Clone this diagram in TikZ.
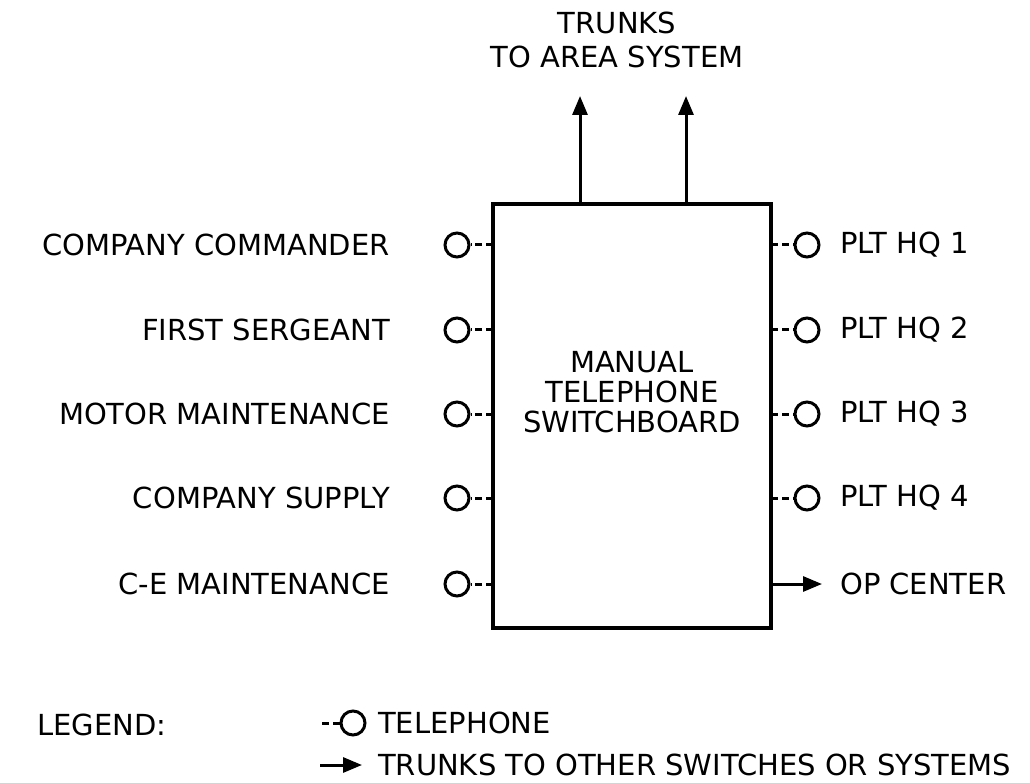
\documentclass[tikz,border=0pt]{standalone}
\usepackage{fontspec}
\setmainfont{DejaVu Sans}
\usetikzlibrary{arrows.meta}
\begin{document}
\begin{tikzpicture}[x=1pt,y=-1pt,
  lbl/.style={font=\fontsize{29}{30}\selectfont,inner sep=0pt},
  phone/.style={circle,draw,line width=3pt,minimum size=24pt,inner sep=0pt},
  dashline/.style={line width=3pt,dash pattern=on 7pt off 4pt},
  trunk/.style={line width=3pt,-{Triangle[length=19pt,width=15pt]}},
  boxstyle/.style={draw,line width=3.6pt,minimum width=278pt,minimum height=424pt,inner sep=0pt}]
\useasboundingbox (0,0) rectangle (1030,783);
% switchboard
\node[boxstyle] (sw) at (632,416) {};
\node[lbl,align=center,font=\fontsize{29}{30}\selectfont] (swt) at (632,392) {MANUAL\\TELEPHONE\\SWITCHBOARD};
% trunks
\node[lbl,align=center,font=\fontsize{29}{34}\selectfont] (tt) at (617,40) {TRUNKS\\TO AREA SYSTEM};
\coordinate (ta1) at (580,96);
\coordinate (ta2) at (686,96);
\coordinate (tb1) at (580,204);
\coordinate (tb2) at (686,204);
\draw[trunk] (tb1) -- (ta1);
\draw[trunk] (tb2) -- (ta2);
% left rows
\foreach \y/\t/\n in {245/COMPANY COMMANDER/l1, 330/FIRST SERGEANT/l2, 414/MOTOR MAINTENANCE/l3, 498/COMPANY SUPPLY/l4, 584/C-E MAINTENANCE/l5}{
  \node[lbl,anchor=east] (\n t) at (390,\y) {\t};
  \node[phone] (\n c) at (457,\y) {};
  \coordinate (\n e) at (493,\y);
  \draw[dashline] (\n e) -- (\n c.east);
}
% right rows
\foreach \y/\t/\n in {245/PLT HQ 1/r1, 330/PLT HQ 2/r2, 414/PLT HQ 3/r3, 498/PLT HQ 4/r4}{
  \node[lbl,anchor=west] (\n t) at (840,\y) {\t};
  \node[phone] (\n c) at (807,\y) {};
  \coordinate (\n e) at (771,\y);
  \draw[dashline] (\n e) -- (\n c.west);
}
\node[lbl,anchor=west] (opt) at (840,584) {OP CENTER};
\coordinate (ope) at (771,584);
\coordinate (opa) at (822,584);
\draw[trunk] (ope) -- (opa);
% legend
\node[lbl,anchor=west] (leg) at (37,725) {LEGEND:};
\coordinate (lgs) at (318,723);
\node[phone] (lgc) at (353,723) {};
\draw[dashline] (lgc.west) -- (lgs);
\node[lbl,anchor=west] (lgt) at (378,723) {TELEPHONE};
\coordinate (las) at (320,765);
\coordinate (lae) at (362,765);
\draw[trunk] (las) -- (lae);
\node[lbl,anchor=west] (lat) at (378,765) {TRUNKS TO OTHER SWITCHES OR SYSTEMS};
\end{tikzpicture}
\end{document}
